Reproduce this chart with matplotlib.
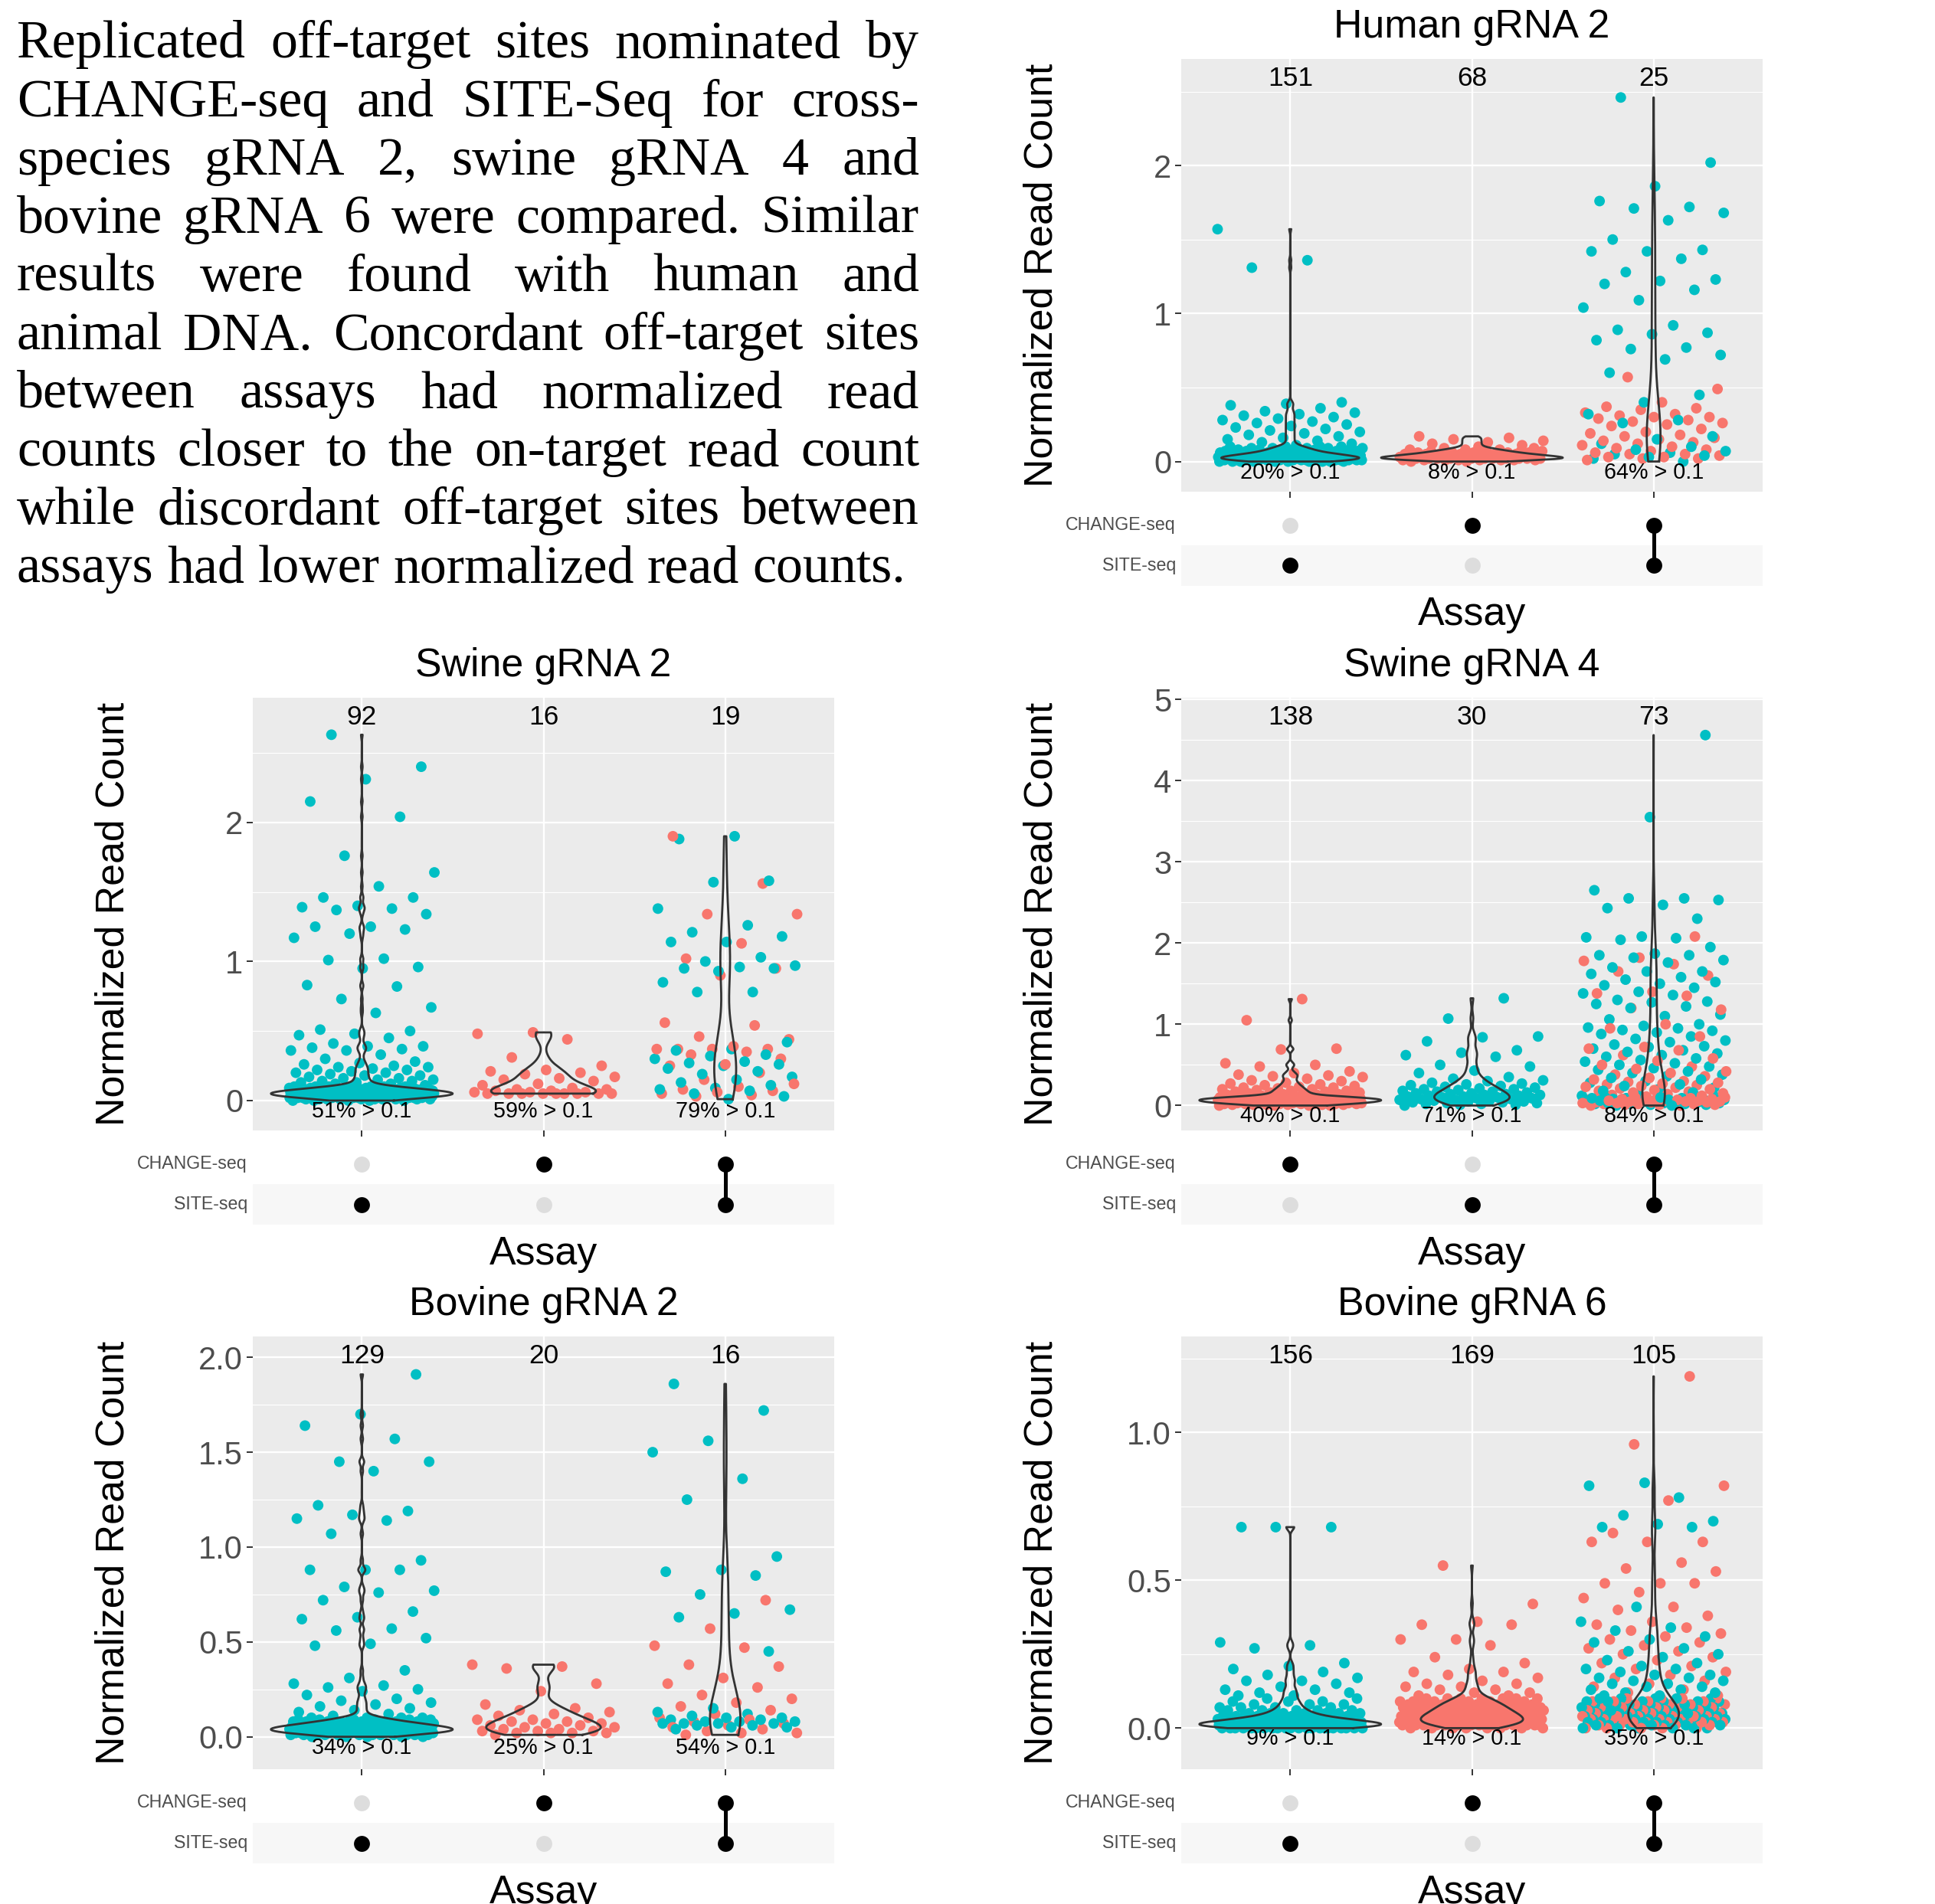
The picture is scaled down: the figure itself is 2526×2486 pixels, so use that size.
import numpy as np
import matplotlib
matplotlib.use("Agg")
import matplotlib.pyplot as plt

plt.rcParams["font.family"] = ["Liberation Sans", "DejaVu Sans"]

W, H = 2526, 2486
TEAL = "#00BFC4"      # SITE-seq read counts
SALMON = "#F8766D"    # CHANGE-seq read counts
SERIF = "Liberation Serif"

# ---------------------------------------------------------------- data
# levels used for the dense clusters near zero (counts read per level)
LOW_LEVELS = [0.00, 0.01, 0.02, 0.03, 0.04, 0.05, 0.06, 0.07, 0.08, 0.09, 0.10]
ASSAYS = ["CHANGE-seq", "SITE-seq"]

# Human gRNA 2
human_sets = [["SITE-seq"], ["CHANGE-seq"], ["CHANGE-seq", "SITE-seq"]]
human_counts = [151, 68, 25]
human_pct = [20, 8, 64]
human_g1_site = [1.57, 1.36, 1.31, 0.40, 0.39, 0.38, 0.36, 0.34, 0.33, 0.32, 0.31, 0.30, 0.29,
                 0.28, 0.27, 0.26, 0.25, 0.24, 0.23, 0.22, 0.21, 0.20, 0.19, 0.18, 0.17, 0.16,
                 0.15, 0.14, 0.13, 0.12, 0.11]
human_g1_site_low = [10, 18, 22, 18, 14, 10, 8, 6, 5, 5, 4]
human_g2_change = [0.17, 0.16, 0.15, 0.14, 0.13, 0.12, 0.11]
human_g2_change_low = [2, 8, 12, 10, 8, 6, 5, 4, 3, 2, 1]
human_g3_site = [2.46, 2.02, 1.86, 1.76, 1.72, 1.71, 1.68, 1.63, 1.50, 1.43, 1.42, 1.42, 1.37,
                 1.28, 1.23, 1.22, 1.20, 1.16, 1.09, 1.04, 0.92, 0.89, 0.87, 0.86, 0.82, 0.77,
                 0.76, 0.72, 0.69, 0.60, 0.45, 0.40, 0.32, 0.28, 0.26, 0.17, 0.15, 0.12, 0.10,
                 0.08, 0.07, 0.06, 0.05, 0.04, 0.03, 0.02, 0.00]
human_g3_change = [0.57, 0.49, 0.40, 0.37, 0.36, 0.35, 0.33, 0.32, 0.31, 0.30, 0.30, 0.29, 0.28,
                   0.27, 0.26, 0.25, 0.24, 0.22, 0.20, 0.19, 0.18, 0.17, 0.16, 0.15, 0.14, 0.13,
                   0.12, 0.11, 0.10, 0.09, 0.08, 0.07, 0.06, 0.05, 0.05, 0.04, 0.03, 0.03, 0.02,
                   0.02, 0.01]

# Swine gRNA 2
swine2_sets = [["SITE-seq"], ["CHANGE-seq"], ["CHANGE-seq", "SITE-seq"]]
swine2_counts = [92, 16, 19]
swine2_pct = [51, 59, 79]
swine2_g1_site = [2.63, 2.40, 2.31, 2.15, 2.04, 1.76, 1.64, 1.54, 1.46, 1.46, 1.40, 1.39, 1.38,
                  1.37, 1.34, 1.25, 1.25, 1.23, 1.20, 1.17, 1.02, 1.01, 0.96, 0.95, 0.83, 0.82,
                  0.73, 0.67, 0.63, 0.51, 0.50, 0.48, 0.47, 0.45, 0.41, 0.39, 0.39, 0.38, 0.37,
                  0.36, 0.36, 0.33, 0.30, 0.28, 0.27, 0.26, 0.25, 0.24, 0.24, 0.23, 0.22, 0.22,
                  0.21, 0.20, 0.20, 0.19, 0.18, 0.18, 0.17, 0.16, 0.16, 0.15, 0.15, 0.14, 0.14,
                  0.13, 0.13, 0.12, 0.12, 0.11]
swine2_g1_site_low = [5, 10, 16, 22, 26, 26, 24, 20, 16, 12, 8]
swine2_g2_change = [0.49, 0.48, 0.44, 0.31, 0.25, 0.22, 0.21, 0.20, 0.19, 0.17, 0.16, 0.15, 0.14,
                    0.12, 0.11, 0.09, 0.08, 0.08, 0.07, 0.07, 0.06, 0.06, 0.06, 0.05, 0.05, 0.05,
                    0.05, 0.05, 0.05, 0.05, 0.05, 0.05]
swine2_g3_site = [1.90, 1.88, 1.58, 1.57, 1.38, 1.26, 1.21, 1.18, 1.14, 1.14, 1.03, 1.00, 0.97,
                  0.96, 0.95, 0.95, 0.93, 0.85, 0.78, 0.78, 0.42, 0.37, 0.36, 0.33, 0.32, 0.30,
                  0.28, 0.27, 0.26, 0.25, 0.23, 0.21, 0.19, 0.17, 0.15, 0.13, 0.11, 0.09, 0.08,
                  0.07, 0.05, 0.03, 0.01]
swine2_g3_change = [1.90, 1.56, 1.34, 1.34, 1.13, 1.02, 0.95, 0.90, 0.56, 0.54, 0.46, 0.44, 0.39,
                    0.37, 0.37, 0.37, 0.37, 0.35, 0.33, 0.30, 0.26, 0.25, 0.20, 0.15, 0.12, 0.10,
                    0.08, 0.07, 0.06, 0.05, 0.04, 0.03]

# Swine gRNA 4
swine4_sets = [["CHANGE-seq"], ["SITE-seq"], ["CHANGE-seq", "SITE-seq"]]
swine4_counts = [138, 30, 73]
swine4_pct = [40, 71, 84]
swine4_g1_change = [1.31, 1.05, 0.70, 0.69, 0.52, 0.50, 0.48, 0.42, 0.40, 0.38, 0.37, 0.36, 0.35,
                    0.33, 0.31, 0.30, 0.28, 0.27, 0.26, 0.25, 0.24, 0.23, 0.22, 0.22, 0.21, 0.20,
                    0.20, 0.19, 0.18, 0.18, 0.17, 0.17, 0.16, 0.16, 0.15, 0.15, 0.14, 0.14, 0.13,
                    0.13, 0.12, 0.12, 0.11, 0.11]
swine4_g1_change_low = [4, 6, 7, 8, 9, 9, 10, 10, 10, 11, 10]
swine4_g2_site = [1.32, 1.07, 0.85, 0.84, 0.79, 0.68, 0.65, 0.62, 0.60, 0.50, 0.48, 0.43, 0.40,
                  0.35, 0.33, 0.31, 0.30, 0.28, 0.27, 0.26, 0.25, 0.24, 0.23, 0.22, 0.21, 0.20,
                  0.20, 0.19, 0.18, 0.17, 0.17, 0.16, 0.15, 0.15, 0.14, 0.14, 0.13, 0.13, 0.12,
                  0.12, 0.11, 0.11, 0.10, 0.10, 0.09, 0.09, 0.08, 0.08, 0.07, 0.07, 0.06, 0.06,
                  0.05, 0.05, 0.04, 0.04, 0.03, 0.03, 0.02, 0.02, 0.01, 0.01, 0.00]
swine4_g3_site = [4.56, 3.55, 2.65, 2.55, 2.55, 2.53, 2.47, 2.43, 2.30, 2.08, 2.07, 2.06, 2.04,
                  1.95, 1.87, 1.85, 1.85, 1.82, 1.79, 1.76, 1.70, 1.65, 1.65, 1.62, 1.58, 1.55,
                  1.52, 1.50, 1.48, 1.45, 1.40, 1.38, 1.36, 1.30, 1.28, 1.27, 1.25, 1.22, 1.20,
                  1.12, 1.10, 1.06, 1.00, 0.98, 0.96, 0.95, 0.93, 0.92, 0.90, 0.88, 0.85, 0.82,
                  0.80, 0.78, 0.75, 0.73, 0.72, 0.70, 0.68, 0.66, 0.64, 0.62, 0.60, 0.58, 0.56,
                  0.54, 0.52, 0.50, 0.48, 0.46, 0.44, 0.42, 0.40, 0.38, 0.36, 0.34, 0.32, 0.30,
                  0.28, 0.26, 0.24, 0.22, 0.20, 0.18, 0.16, 0.14, 0.12]
swine4_g3_site_low = [2, 2, 3, 3, 3, 3, 3, 3, 3, 3, 3]
swine4_g3_change = [2.08, 1.82, 1.78, 1.74, 1.65, 1.60, 1.40, 1.38, 1.35, 1.20, 1.18, 1.00, 0.95,
                    0.85, 0.72, 0.70, 0.68, 0.62, 0.58, 0.55, 0.50, 0.48, 0.45, 0.42, 0.40, 0.38,
                    0.36, 0.34, 0.32, 0.30, 0.29, 0.28, 0.27, 0.26, 0.25, 0.24, 0.23, 0.22, 0.21,
                    0.20, 0.19, 0.18, 0.17, 0.16, 0.15, 0.14, 0.13, 0.12, 0.11]
swine4_g3_change_low = [2, 3, 3, 3, 3, 3, 3, 3, 3, 2, 2]

# Bovine gRNA 2
bovine2_sets = [["SITE-seq"], ["CHANGE-seq"], ["CHANGE-seq", "SITE-seq"]]
bovine2_counts = [129, 20, 16]
bovine2_pct = [34, 25, 54]
bovine2_g1_site = [1.91, 1.70, 1.64, 1.57, 1.45, 1.45, 1.40, 1.22, 1.19, 1.17, 1.15, 1.14, 1.07,
                   0.93, 0.88, 0.88, 0.88, 0.79, 0.77, 0.76, 0.72, 0.66, 0.63, 0.62, 0.57, 0.56,
                   0.52, 0.49, 0.48, 0.35, 0.31, 0.28, 0.27, 0.26, 0.25, 0.24, 0.22, 0.20, 0.19,
                   0.18, 0.17, 0.16, 0.15, 0.14, 0.13, 0.12, 0.11]
bovine2_g1_site_low = [5, 12, 18, 22, 22, 20, 16, 12, 9, 7, 5]
bovine2_g2_change = [0.38, 0.37, 0.36, 0.28, 0.24, 0.17, 0.15, 0.14, 0.13, 0.12, 0.11, 0.10, 0.09,
                     0.09, 0.08, 0.08, 0.07, 0.07, 0.06, 0.06, 0.05, 0.05, 0.04, 0.04, 0.03, 0.03,
                     0.03, 0.02, 0.02, 0.02, 0.02, 0.01]
bovine2_g3_site = [1.86, 1.72, 1.56, 1.50, 1.36, 1.25, 0.95, 0.88, 0.87, 0.85, 0.75, 0.67, 0.65,
                   0.63, 0.45, 0.15, 0.13, 0.12, 0.11, 0.10, 0.10, 0.09, 0.09, 0.08, 0.08, 0.08,
                   0.07, 0.07, 0.07, 0.07, 0.06, 0.06, 0.05, 0.05, 0.04]
bovine2_g3_change = [0.72, 0.57, 0.48, 0.47, 0.38, 0.37, 0.31, 0.28, 0.26, 0.22, 0.20, 0.18, 0.16,
                     0.14, 0.12, 0.10, 0.09, 0.08, 0.07, 0.06, 0.05, 0.04, 0.03, 0.02, 0.02, 0.01]

# Bovine gRNA 6
bovine6_sets = [["SITE-seq"], ["CHANGE-seq"], ["CHANGE-seq", "SITE-seq"]]
bovine6_counts = [156, 169, 105]
bovine6_pct = [9, 14, 35]
bovine6_g1_site = [0.68, 0.68, 0.68, 0.29, 0.28, 0.27, 0.22, 0.21, 0.20, 0.19, 0.18, 0.17, 0.16,
                   0.16, 0.15, 0.14, 0.13, 0.13, 0.12, 0.12, 0.11, 0.11]
bovine6_g1_site_low = [22, 34, 28, 16, 10, 7, 5, 4, 3, 3, 2]
bovine6_g2_change = [0.55, 0.42, 0.36, 0.35, 0.35, 0.30, 0.30, 0.28, 0.24, 0.22, 0.20, 0.19, 0.19,
                     0.18, 0.17, 0.16, 0.15, 0.15, 0.14, 0.14, 0.13, 0.13, 0.12, 0.12, 0.11, 0.11]
bovine6_g2_change_low = [8, 16, 18, 17, 16, 14, 12, 11, 10, 8, 7]
bovine6_g3_site = [0.83, 0.82, 0.78, 0.72, 0.70, 0.69, 0.68, 0.68, 0.41, 0.36, 0.34, 0.33, 0.31,
                   0.30, 0.29, 0.27, 0.26, 0.25, 0.24, 0.23, 0.22, 0.21, 0.20, 0.20, 0.19, 0.18,
                   0.18, 0.17, 0.17, 0.16, 0.16, 0.15, 0.15, 0.14, 0.14, 0.13, 0.13, 0.12, 0.12,
                   0.11, 0.11]
bovine6_g3_site_low = [6, 7, 8, 8, 8, 8, 7, 7, 6, 6, 5]
bovine6_g3_change = [1.19, 0.96, 0.82, 0.77, 0.66, 0.63, 0.63, 0.63, 0.56, 0.54, 0.53, 0.49, 0.49,
                     0.49, 0.46, 0.44, 0.41, 0.40, 0.38, 0.36, 0.35, 0.34, 0.33, 0.32, 0.31, 0.30,
                     0.29, 0.28, 0.27, 0.26, 0.25, 0.24, 0.23, 0.22, 0.21, 0.20, 0.19, 0.18, 0.17,
                     0.16, 0.15, 0.14, 0.13, 0.12, 0.11]
bovine6_g3_change_low = [5, 6, 6, 6, 6, 5, 5, 5, 4, 4, 4]

TEXT_LINES = [
    "Replicated off-target sites nominated by",
    "CHANGE-seq and SITE-Seq for cross-",
    "species gRNA 2, swine gRNA 4 and",
    "bovine gRNA 6 were compared. Similar",
    "results were found with human and",
    "animal DNA. Concordant off-target sites",
    "between assays had normalized read",
    "counts closer to the on-target read count",
    "while discordant off-target sites between",
    "assays had lower normalized read counts.",
]


def expand(hi, low=()):
    vals = list(hi)
    for v, c in zip(LOW_LEVELS, low):
        vals += [v] * c
    return vals


PANELS = [
    dict(title="Human gRNA 2", left=1542, top=77, ylim=(-0.204, 2.72),
         ticks=[0, 1, 2], labels=["0", "1", "2"], minor=[0.5, 1.5, 2.5],
         sets=human_sets, counts=human_counts, pct=human_pct,
         site=[expand(human_g1_site, human_g1_site_low), [], human_g3_site],
         change=[[], expand(human_g2_change, human_g2_change_low), human_g3_change]),
    dict(title="Swine gRNA 2", left=330, top=911, ylim=(-0.215, 2.896),
         ticks=[0, 1, 2], labels=["0", "1", "2"], minor=[0.5, 1.5, 2.5],
         sets=swine2_sets, counts=swine2_counts, pct=swine2_pct,
         site=[expand(swine2_g1_site, swine2_g1_site_low), [], swine2_g3_site],
         change=[[], swine2_g2_change, swine2_g3_change]),
    dict(title="Swine gRNA 4", left=1542, top=911, ylim=(-0.307, 5.02),
         ticks=[0, 1, 2, 3, 4, 5], labels=["0", "1", "2", "3", "4", "5"],
         minor=[0.5, 1.5, 2.5, 3.5, 4.5],
         sets=swine4_sets, counts=swine4_counts, pct=swine4_pct,
         site=[[], swine4_g2_site, expand(swine4_g3_site, swine4_g3_site_low)],
         change=[expand(swine4_g1_change, swine4_g1_change_low), [],
                 expand(swine4_g3_change, swine4_g3_change_low)]),
    dict(title="Bovine gRNA 2", left=330, top=1745, ylim=(-0.171, 2.11),
         ticks=[0, 0.5, 1.0, 1.5, 2.0], labels=["0.0", "0.5", "1.0", "1.5", "2.0"],
         minor=[0.25, 0.75, 1.25, 1.75],
         sets=bovine2_sets, counts=bovine2_counts, pct=bovine2_pct,
         site=[expand(bovine2_g1_site, bovine2_g1_site_low), [], bovine2_g3_site],
         change=[[], bovine2_g2_change, bovine2_g3_change]),
    dict(title="Bovine gRNA 6", left=1542, top=1745, ylim=(-0.139, 1.325),
         ticks=[0, 0.5, 1.0], labels=["0.0", "0.5", "1.0"], minor=[0.25, 0.75, 1.25],
         sets=bovine6_sets, counts=bovine6_counts, pct=bovine6_pct,
         site=[expand(bovine6_g1_site, bovine6_g1_site_low), [],
               expand(bovine6_g3_site, bovine6_g3_site_low)],
         change=[[], expand(bovine6_g2_change, bovine6_g2_change_low),
                 expand(bovine6_g3_change, bovine6_g3_change_low)]),
]

PW, PH = 759, 565
PHI = 0.6180339887
VIOLIN_WIDTH = 1.0


def box(left, top, width, height):
    return [left / W, 1 - (top + height) / H, width / W, height / H]


def fx(x):
    return x / W


def fy(y):
    return 1 - y / H


def nrd0(x):
    x = np.asarray(x, float)
    sd = x.std(ddof=1)
    q75, q25 = np.percentile(x, [75, 25])
    lo = min(sd, (q75 - q25) / 1.34)
    if lo <= 0:
        lo = sd if sd > 0 else 1.0
    return 0.9 * lo * len(x) ** -0.2


def kde(x):
    x = np.asarray(x, float)
    grid = np.linspace(x.min(), x.max(), 512)
    bw = nrd0(x)
    z = (grid[:, None] - x[None, :]) / bw
    d = np.exp(-0.5 * z ** 2).sum(1) / (len(x) * bw * np.sqrt(2 * np.pi))
    return grid, d


fig = plt.figure(figsize=(W / 100, H / 100), dpi=100)
fig.patch.set_facecolor("white")

for pi, P in enumerate(PANELS):
    L, T = P["left"], P["top"]
    ax = fig.add_axes(box(L, T, PW, PH))
    ax.set_facecolor("#EBEBEB")
    for s in ax.spines.values():
        s.set_visible(False)
    ax.set_xlim(0.4, 3.6)
    ax.set_ylim(*P["ylim"])
    ax.set_xticks([1, 2, 3])
    ax.set_xticklabels([])
    ax.set_yticks(P["ticks"])
    ax.set_yticklabels(P["labels"])
    ax.set_yticks(P["minor"], minor=True)
    ax.grid(which="major", axis="both", color="white", lw=1.7)
    ax.grid(which="minor", axis="y", color="white", lw=0.85)
    ax.set_axisbelow(True)
    ax.tick_params(axis="y", which="major", length=5.8, width=1.4, color="#333333",
                   labelsize=30, labelcolor="#4D4D4D", pad=3.5)
    ax.tick_params(axis="x", which="major", length=5.8, width=1.4, color="#333333")
    ax.tick_params(which="minor", length=0)

    dens = []
    for gi in range(3):
        site = list(P["site"][gi])
        chg = list(P["change"][gi])
        vals = site + chg
        cols = [TEAL] * len(site) + [SALMON] * len(chg)
        n = len(vals)
        phase = 0.137 * gi + 0.291 * pi
        xs = np.array([gi + 1 + (((k * PHI + phase) % 1.0) - 0.5) * 0.8 for k in range(n)])
        ys = np.array(vals)
        if site and chg:
            order = np.argsort([((k * 0.7548776662 + 0.31) % 1.0) for k in range(n)])
        else:
            order = np.arange(n)
        ax.scatter(xs[order], ys[order], s=100, c=[cols[k] for k in order],
                   linewidths=0, zorder=3)
        dens.append(kde(vals))
    maxd = max(d.max() for _, d in dens)
    for gi, (grid, d) in enumerate(dens):
        hw = d / maxd * VIOLIN_WIDTH / 2
        vx = np.concatenate([gi + 1 + hw, (gi + 1 - hw)[::-1], [gi + 1 + hw[0]]])
        vy = np.concatenate([grid, grid[::-1], [grid[0]]])
        ax.plot(vx, vy, color="#333333", lw=2.0, zorder=4, solid_joinstyle="round")

    for gi in range(3):
        ax.annotate(str(P["counts"][gi]), xy=(gi + 1, 1), xycoords=("data", "axes fraction"),
                    xytext=(0, -26 * 0.72), textcoords="offset points",
                    ha="center", va="center", fontsize=25.5, color="black", zorder=5)
        ax.annotate(f"{P['pct'][gi]}% > 0.1", xy=(gi + 1, 0), xycoords="data",
                    xytext=(0, -14 * 0.72), textcoords="offset points",
                    ha="center", va="center", fontsize=20.7, color="black", zorder=5)

    # membership matrix
    mx = fig.add_axes(box(L, T + 582, PW, 106))
    mx.set_xlim(0.4, 3.6)
    mx.set_ylim(1.5, -0.5)
    mx.axis("off")
    mx.axhspan(0.5, 1.5, color="#F7F7F7", zorder=0, lw=0)
    for gi in range(3):
        members = P["sets"][gi]
        rows = [ASSAYS.index(a) for a in members]
        if len(rows) > 1:
            mx.plot([gi + 1, gi + 1], [min(rows), max(rows)], color="black", lw=3.6,
                    zorder=2, solid_capstyle="butt")
        for r, a in enumerate(ASSAYS):
            mx.scatter([gi + 1], [r], s=225, linewidths=0, zorder=3,
                       color="black" if a in members else "#DDDDDD")
    for r, a in enumerate(ASSAYS):
        fig.text(fx(L - 7), fy(T + 608.5 + 53 * r), a, ha="right", va="center",
                 fontsize=16.7, color="#4D4D4D")

    fig.text(fx(L + PW / 2), fy(T - 42), P["title"], ha="center", va="center",
             fontsize=37.4, color="black")
    fig.text(fx(L + PW / 2), fy(T + 726), "Assay", ha="center", va="center",
             fontsize=37.4, color="black")
    fig.text(fx(L - 182), fy(T + PH / 2), "Normalized Read Count", ha="center",
             va="center", rotation=90, fontsize=37.4, color="black")

# ---------------------------------------------------------------- justified text block
renderer = fig.canvas.get_renderer()


def text_width(s, fs):
    t = fig.text(0, 0, s, fontsize=fs, family=SERIF)
    w = t.get_window_extent(renderer).width
    t.remove()
    return w


TX_LEFT, TX_RIGHT = 22, 1200
fs = 40.0 * 1158 / text_width(TEXT_LINES[-1], 40.0)
space_w = text_width("a a", fs) - text_width("aa", fs)
for i, line in enumerate(TEXT_LINES):
    words = line.split()
    widths = [text_width(w_, fs) for w_ in words]
    if i < len(TEXT_LINES) - 1 and len(words) > 1:
        gap = (TX_RIGHT - TX_LEFT - sum(widths)) / (len(words) - 1)
    else:
        gap = space_w
    x = TX_LEFT
    base = 75.5 + 76.1 * i
    for w_, wd in zip(words, widths):
        fig.text(fx(x), fy(base), w_, fontsize=fs, family=SERIF, ha="left",
                 va="baseline", color="black")
        x += wd + gap

fig.savefig("out.png", dpi=100, facecolor="white")
